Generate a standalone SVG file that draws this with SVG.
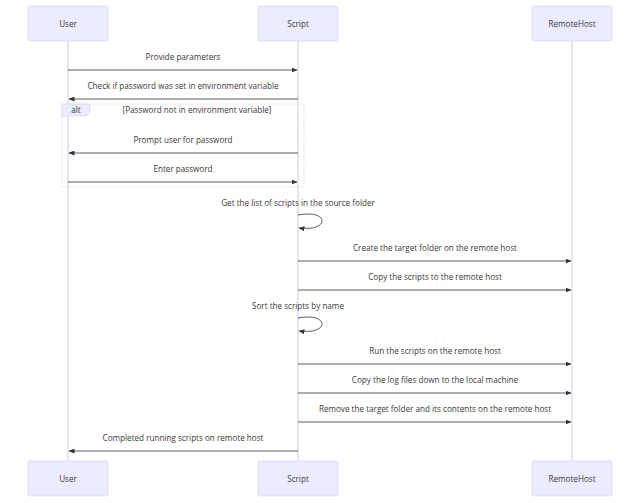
<svg xmlns="http://www.w3.org/2000/svg" width="640" height="503" viewBox="0 0 640 503">
<style>
.actor{fill:#ECECFF;stroke:#D9D2F5;stroke-width:0.7}
.life{stroke:#CFC6F2;stroke-width:1}
.t{font-family:"Open Sans","Liberation Sans",sans-serif;font-size:8.15px;fill:#3a3a3a;text-anchor:middle}
.msg{stroke:#333;stroke-width:0.8;fill:none}
.loop{stroke:#D9D2F5;stroke-width:0.8;fill:none;stroke-dasharray:1.5,1.5}
</style>
<defs>
<marker id="ah" viewBox="0 0 12 10" refX="11" refY="5" markerWidth="6" markerHeight="5" orient="auto" markerUnits="userSpaceOnUse">
<path d="M0,0 L12,5 L0,10 z" fill="#333"/>
</marker>
</defs>
<rect width="640" height="503" fill="#fff"/>
<g id="lifelines">
<line class="life" x1="68" y1="41" x2="68" y2="461"/>
<line class="life" x1="298" y1="41" x2="298" y2="461"/>
<line class="life" x1="572" y1="41" x2="572" y2="461"/>
</g>
<g id="actor-user-top"><rect class="actor" x="28" y="6" width="80" height="35" rx="2"/><text class="t" x="68" y="27">User</text></g>
<g id="actor-script-top"><rect class="actor" x="258" y="6" width="80" height="35" rx="2"/><text class="t" x="298" y="27">Script</text></g>
<g id="actor-remote-top"><rect class="actor" x="532" y="6" width="80" height="35" rx="2"/><text class="t" x="572" y="27">RemoteHost</text></g>
<g id="actor-user-bottom"><rect class="actor" x="28" y="461" width="80" height="35" rx="2"/><text class="t" x="68" y="482">User</text></g>
<g id="actor-script-bottom"><rect class="actor" x="258" y="461" width="80" height="35" rx="2"/><text class="t" x="298" y="482">Script</text></g>
<g id="actor-remote-bottom"><rect class="actor" x="532" y="461" width="80" height="35" rx="2"/><text class="t" x="572" y="482">RemoteHost</text></g>
<g id="alt-block">
<rect class="loop" x="62" y="104" width="242" height="83"/>
<polygon points="62,104 90,104 90,111 86,116 62,116" fill="#ECECFF" stroke="#D9D2F5" stroke-width="0.7"/>
<text class="t" x="76" y="113">alt</text>
<text class="t" x="197" y="113">[Password not in environment variable]</text>
</g>
<g id="connectors">
<text class="t" x="183" y="60">Provide parameters</text>
<line class="msg" x1="68" y1="70" x2="297" y2="70" marker-end="url(#ah)"/>
<text class="t" x="183" y="89">Check if password was set in environment variable</text>
<line class="msg" x1="298" y1="99" x2="69" y2="99" marker-end="url(#ah)"/>
<text class="t" x="183" y="143">Prompt user for password</text>
<line class="msg" x1="298" y1="153" x2="69" y2="153" marker-end="url(#ah)"/>
<text class="t" x="183" y="172">Enter password</text>
<line class="msg" x1="68" y1="182" x2="297" y2="182" marker-end="url(#ah)"/>
<text class="t" x="298" y="206">Get the list of scripts in the source folder</text>
<path class="msg" d="M298,215 C330,209 330,232 299,228" marker-end="url(#ah)"/>
<text class="t" x="435" y="251">Create the target folder on the remote host</text>
<line class="msg" x1="298" y1="261" x2="571" y2="261" marker-end="url(#ah)"/>
<text class="t" x="435" y="280">Copy the scripts to the remote host</text>
<line class="msg" x1="298" y1="290" x2="571" y2="290" marker-end="url(#ah)"/>
<text class="t" x="298" y="309">Sort the scripts by name</text>
<path class="msg" d="M298,318 C330,312 330,335 299,331" marker-end="url(#ah)"/>
<text class="t" x="435" y="354">Run the scripts on the remote host</text>
<line class="msg" x1="298" y1="364" x2="571" y2="364" marker-end="url(#ah)"/>
<text class="t" x="435" y="383">Copy the log files down to the local machine</text>
<line class="msg" x1="298" y1="393" x2="571" y2="393" marker-end="url(#ah)"/>
<text class="t" x="435" y="412">Remove the target folder and its contents on the remote host</text>
<line class="msg" x1="298" y1="422" x2="571" y2="422" marker-end="url(#ah)"/>
<text class="t" x="183" y="441">Completed running scripts on remote host</text>
<line class="msg" x1="298" y1="451" x2="69" y2="451" marker-end="url(#ah)"/>
</g>
</svg>
